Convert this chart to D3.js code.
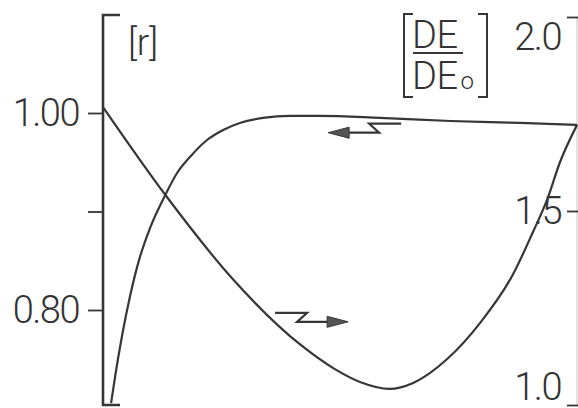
<!DOCTYPE html>
<html>
<head>
<meta charset="utf-8">
<script src="https://cdn.jsdelivr.net/npm/d3@7"></script>
<style>
  html, body { margin: 0; padding: 0; background: #fff; }
  svg { display: block; }
  text { font-family: Roboto, "DejaVu Sans", sans-serif; font-weight: 300; fill: #333; }
</style>
</head>
<body>
<svg id="chart" width="578" height="408"></svg>
<script>
// Progress parameter along the cycle (unlabelled horizontal axis)
const progress = [0, 1.31, 2.74, 4.15, 4.88, 5.41, 6.04, 6.53, 7.24, 7.94, 8.63, 9.05, 9.35, 9.62, 9.98];
// Ratio r (left axis)
const rValues = [1.006, 0.917, 0.831, 0.765, 0.740, 0.727, 0.720, 0.726, 0.750, 0.787, 0.836, 0.879, 0.912, 0.950, 0.988];

const progressDE = [0.17, 0.27, 0.40, 0.57, 0.76, 0.99, 1.31, 1.56, 1.83, 2.19, 2.53, 2.88, 3.37, 3.94, 4.57, 5.83, 7.31, 8.78, 9.98];
// Normalised DE / DE0 (right axis)
const deValues = [1.005, 1.085, 1.178, 1.281, 1.374, 1.456, 1.541, 1.598, 1.639, 1.683, 1.709, 1.727, 1.740, 1.745, 1.745, 1.740, 1.732, 1.727, 1.722];

const rTicks = [0.80, 0.90, 1.00];
const rLabelled = [0.80, 1.00];
const deTicks = [1.0, 1.5, 2.0];

// Direction arrows: tip position in data units, pointing direction
const arrows = [
  { x: 5.16, r: 0.788, dir: 1 },
  { x: 4.74, r: 0.980, dir: -1 }
];

const svg = d3.select("#chart");
const ink = "#363636";

const x = d3.scaleLinear().domain([0, 10]).range([103, 578]);
const yR = d3.scaleLinear().domain([0.70, 1.10]).range([408.5, 14.5]);
const yDE = d3.scaleLinear().domain([1.0, 2.0]).range([405, 17]);

const leftX = 103, rightX = 577, axTop = 15, axBottom = 405;

// Left axis spine with end caps
svg.append("path")
  .attr("d", `M${leftX + 17},${axTop}H${leftX}V${axBottom}H${leftX + 17}`)
  .attr("fill", "none").attr("stroke", ink).attr("stroke-width", 2.6);

const leftAxis = svg.append("g")
  .attr("transform", `translate(${leftX},0)`)
  .call(d3.axisLeft(yR).tickValues(rTicks).tickSize(15).tickPadding(9)
    .tickFormat(d => rLabelled.some(v => Math.abs(v - d) < 1e-9) ? d3.format(".2f")(d) : ""));
leftAxis.select(".domain").remove();
leftAxis.selectAll(".tick line").attr("stroke", ink).attr("stroke-width", 1.8);
leftAxis.selectAll(".tick text")
  .attr("fill", "#333").attr("font-size", 38).attr("letter-spacing", -1.5)
  .attr("font-family", "Roboto, sans-serif").attr("font-weight", 300);

// Right axis (faint spine)
svg.append("line")
  .attr("x1", rightX).attr("x2", rightX).attr("y1", yDE(2.0)).attr("y2", yDE(1.0))
  .attr("stroke", "#d0d0d0").attr("stroke-width", 1.2);

const rightAxis = svg.append("g")
  .attr("transform", `translate(${rightX + 1},0)`)
  .call(d3.axisLeft(yDE).tickValues(deTicks).tickSize(11).tickPadding(6).tickFormat(d3.format(".1f")));
rightAxis.select(".domain").remove();
rightAxis.selectAll(".tick line").attr("stroke", ink).attr("stroke-width", 1.8);
// keep the end labels inside the spine extent
rightAxis.selectAll(".tick text")
  .attr("fill", "#333").attr("font-size", 38).attr("letter-spacing", -1.5)
  .attr("font-family", "Roboto, sans-serif").attr("font-weight", 300)
  .attr("y", d => {
    const p = yDE(d);
    const c = Math.max(yDE(2.0) + 20, Math.min(yDE(1.0) - 18, p));
    return c - p;
  });

// Axis titles
svg.append("text").attr("x", 128).attr("y", 55)
  .attr("font-size", 37).text("[r]");

const fx = 404, fTop = 14, fBot = 97;
svg.append("path")
  .attr("d", `M${fx + 9},${fTop}H${fx}V${fBot}H${fx + 9}M${fx + 74},${fTop}H${fx + 83}V${fBot}H${fx + 74}`)
  .attr("fill", "none").attr("stroke", ink).attr("stroke-width", 2);
svg.append("text").attr("x", 412).attr("y", 48).attr("font-size", 38).attr("letter-spacing", -0.5).text("DE");
svg.append("line").attr("x1", 413).attr("x2", 463).attr("y1", 53).attr("y2", 53)
  .attr("stroke", ink).attr("stroke-width", 2);
const den = svg.append("text").attr("x", 412).attr("y", 89).attr("font-size", 38).attr("letter-spacing", -0.5);
den.append("tspan").text("DE");
den.append("tspan").attr("font-size", 24).attr("dx", 3).text("o");

// Curves
const line = d3.line().curve(d3.curveMonotoneX);
svg.append("path")
  .attr("d", line(progress.map((p, i) => [x(p), yR(rValues[i])])))
  .attr("fill", "none").attr("stroke", ink).attr("stroke-width", 2.2);
svg.append("path")
  .attr("d", line(progressDE.map((p, i) => [x(p), yDE(deValues[i])])))
  .attr("fill", "none").attr("stroke", ink).attr("stroke-width", 2.2);

// Zig-zag direction arrows
arrows.forEach(a => {
  const tx = x(a.x), ty = yR(a.r), s = a.dir;
  const baseX = tx - s * 21;
  svg.append("path")
    .attr("d", `M${tx - s * 73},${ty - 9}H${tx - s * 41}L${tx - s * 51},${ty}H${baseX}`)
    .attr("fill", "none").attr("stroke", ink).attr("stroke-width", 2.2);
  svg.append("path")
    .attr("d", `M${tx},${ty}L${baseX},${ty - 5.5}L${baseX},${ty + 5.5}Z`)
    .attr("fill", "#555").attr("stroke", ink).attr("stroke-width", 1);
});
</script>
</body>
</html>
